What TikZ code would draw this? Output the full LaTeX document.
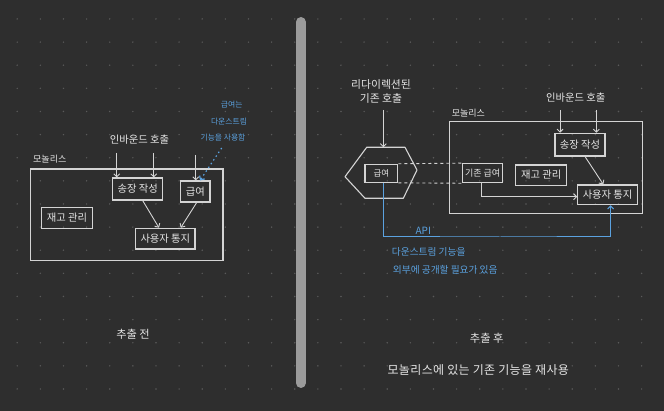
\documentclass[tikz,border=0pt]{standalone}
\usepackage{fontspec}
\setmainfont{Noto Sans CJK KR}
\usetikzlibrary{arrows.meta}
\definecolor{bgc}{HTML}{2E2E2E}
\definecolor{dotc}{HTML}{5A5A5A}
\definecolor{linec}{HTML}{D4D4D4}
\definecolor{txtc}{HTML}{E6E6E6}
\definecolor{bluec}{HTML}{5BA2E0}
\definecolor{sepc}{HTML}{9B9B9B}
\newcommand{\fs}[1]{\fontsize{#1}{#1}\selectfont}
\tikzset{
  box/.style={draw=linec, line width=1.1pt, inner sep=0pt, text=txtc, font=\fs{10.3}},
  lbl/.style={inner sep=0pt, text=txtc, font=\fs{10.3}},
  bluelbl/.style={inner sep=0pt, text=bluec, font=\fs{9.7}},
  arr/.style={draw=linec, line width=0.9pt, -{Straight Barb[length=3pt,width=6pt]}},
  bluearr/.style={draw=bluec, line width=1pt, -{Straight Barb[length=3pt,width=6pt]}},
  dashline/.style={draw=linec, line width=0.9pt, dash pattern=on 3pt off 3pt},
}
\begin{document}
\begin{tikzpicture}[x=1pt,y=-1pt]
\fill[bgc] (0,0) rectangle (664,411);
\useasboundingbox (0,0) rectangle (664,411);
\foreach \i in {0,...,27}{\foreach \j in {0,...,16}{
  \fill[dotc] (17.2+23.125*\i, 19+23.125*\j) circle (0.8pt);}}
% separator
\draw[sepc, line width=10pt, line cap=round] (300.8,22) -- (300.8,383);

% ---------------- left: before extraction
\node[box, minimum width=192.3pt, minimum height=91.7pt] (mono1) at (126.85,214.85) {};
\node[lbl, font=\fs{9}, anchor=base west] (monolbl1) at (33,163) {모놀리스};
\node[box, minimum width=50pt, minimum height=22pt] (inv1) at (137.7,189) {송장 작성};
\node[box, minimum width=29.3pt, minimum height=21pt] (pay1) at (195.35,191.5) {급여};
\node[box, minimum width=50.6pt, minimum height=20.6pt] (stock1) at (67,218) {재고 관리};
\node[box, minimum width=59.3pt, minimum height=20.7pt] (notif1) at (165.35,238.65) {사용자 통지};
\node[lbl] (inb1) at (139.5,140) {인바운드 호출};
\coordinate (a1) at (116.7,153);
\coordinate (a2) at (153.7,153);
\coordinate (a3) at (195.7,155);
\draw[arr] (a1) -- (a1 |- inv1.north);
\draw[arr] (a2) -- (a2 |- inv1.north);
\draw[arr] (a3) -- (a3 |- pay1.north);
\draw[arr] ([xshift=5pt]inv1.south) -- ([xshift=-6.35pt]notif1.north);
\draw[arr] ([xshift=1.35pt]pay1.south) -- ([xshift=15.35pt]notif1.north);
\node[bluelbl, font=\fs{7.8}] (n1a) at (231.7,105) {급여는};
\node[bluelbl, font=\fs{7.8}] (n1b) at (229,121.7) {다운스트림};
\node[bluelbl, font=\fs{7.8}] (n1c) at (223,138) {기능을 사용함};
\coordinate (b1) at (221.7,148);
\draw[bluearr, line width=1.2pt, dash pattern=on 1.5pt off 3pt] (b1) -- ([xshift=4.65pt]pay1.north);
\node[lbl, font=\fs{11.2}] (before) at (133,334) {추출 전};

% ---------------- right: after extraction
\node[box, minimum width=193.4pt, minimum height=92pt] (mono2) at (546,167.7) {};
\node[lbl, font=\fs{9}, anchor=base west] (monolbl2) at (451.7,116.5) {모놀리스};
\node[lbl, align=center, font=\fs{10.8}] (redir) at (381,91.3) {리다이렉션된\\[3pt]기존 호출};
\coordinate (h1) at (366.7,147.3);
\coordinate (h2) at (405,147.3);
\coordinate (h3) at (417,170);
\coordinate (h4) at (403.3,198.3);
\coordinate (h5) at (365,198.3);
\coordinate (h6) at (345,176.7);
\draw[linec, line width=1.1pt, line join=round] (h1) -- (h2) -- (h3) -- (h4) -- (h5) -- (h6) -- cycle;
\coordinate (r0) at (383.3,110);
\draw[arr] (r0) -- (r0 |- h1);
\node[box, minimum width=32.7pt, minimum height=18pt, font=\fs{8.5}] (pay2) at (381.35,173.3) {급여};
\node[box, minimum width=40pt, minimum height=19pt, font=\fs{9}] (oldpay) at (482.7,173.2) {기존 급여};
\node[box, minimum width=51pt, minimum height=20.3pt] (stock2) at (541.2,175.15) {재고 관리};
\node[box, minimum width=50pt, minimum height=22.7pt] (inv2) at (580,144.65) {송장 작성};
\node[box, minimum width=59.8pt, minimum height=19.7pt] (notif2) at (607.6,194.85) {사용자 통지};
\node[lbl] (inb2) at (575.7,97.7) {인바운드 호출};
\coordinate (c1) at (560,110);
\coordinate (c2) at (596.3,110);
\draw[arr] (c1) -- (c1 |- inv2.north);
\draw[arr] (c2) -- (c2 |- inv2.north);
\draw[arr] ([xshift=5pt]inv2.south) -- ([xshift=-4.3pt]notif2.north);
\draw[arr] ([xshift=-1pt]oldpay.south) |- ([yshift=-1.8pt]notif2.west);
\draw[dashline] (pay2.north east) -- (oldpay.north west);
\draw[dashline] (pay2.south east) -- (oldpay.south west);
\coordinate (apiy) at (500,237);
\draw[bluearr] ([xshift=2pt]pay2.south) |- (apiy) -| ([xshift=3pt]notif2.south);
\node[bluelbl, font=\fs{10}] (api) at (423.3,230.5) {API};
\node[bluelbl, anchor=west] (d1) at (391.7,251.7) {다운스트림 기능을};
\node[bluelbl, anchor=west] (d2) at (392.7,270) {외부에 공개할 필요가 있음};
\node[lbl, font=\fs{11.2}] (after) at (486.7,338.3) {추출 후};
\node[lbl, font=\fs{12}\addfontfeature{LetterSpace=3}] (reuse) at (478.3,370) {모놀리스에 있는 기존 기능을 재사용};
\end{tikzpicture}
\end{document}
